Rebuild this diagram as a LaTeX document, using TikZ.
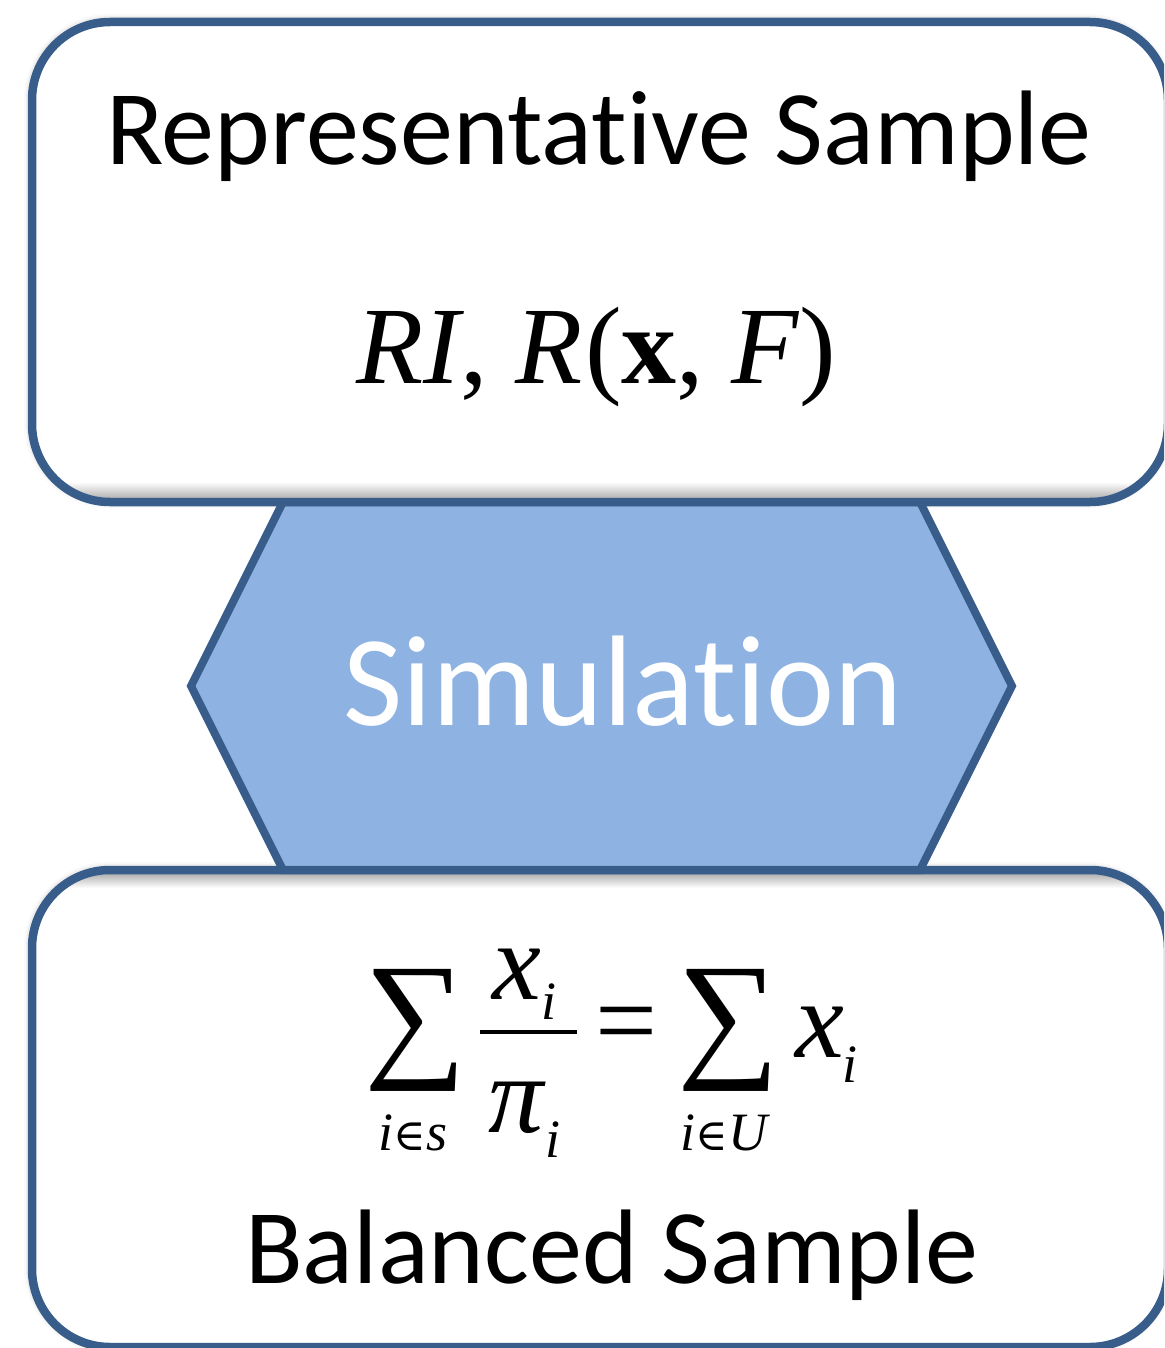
\documentclass[tikz,border=0pt]{standalone}
\usepackage{fontspec}
\setmainfont[Ligatures=NoCommon]{Carlito}
\newfontfamily\mathserif{Liberation Serif}
\newfontfamily\setsym{DejaVu Serif}
\usetikzlibrary{shadows.blur}

\definecolor{panelline}{RGB}{56,93,138}
\definecolor{hexfill}{RGB}{142,179,226}

\tikzset{
  panel/.style={line width=8.5pt, draw=panelline, rounded corners=78pt},
  halo/.style={fill=white, rounded corners=78pt,
    blur shadow={shadow xshift=-1pt, shadow yshift=1pt,
      shadow blur radius=7pt, shadow opacity=35}},
  stage/.style={line width=8pt, draw=panelline, fill=hexfill, line join=miter},
  bigtext/.style={inner sep=0pt, font=\fontsize{106}{120}\selectfont},
  formula/.style={inner sep=0pt, font=\mathserif\fontsize{110}{120}\selectfont},
  letter/.style={inner sep=0pt, font=\mathserif\itshape\fontsize{110}{120}\selectfont},
  index/.style={inner sep=0pt, font=\mathserif\itshape\fontsize{54}{60}\selectfont},
  bigsum/.style={inner sep=0pt, font=\mathserif}
}

% a large summation sign stretched to a given box
\newcommand{\sumsign}{\resizebox*{102pt}{122pt}{\char"2211}}
\newcommand{\elem}{{\setsym\upshape\fontsize{44}{50}\selectfont\char"2208}}

\begin{document}
\begin{tikzpicture}[x=1pt,y=-1pt]
\useasboundingbox (0,0) rectangle (1164,1348);
\clip (0,0) rectangle (1164,1348);

% white panels with their soft shadows
\path[halo] (32,22) rectangle (1168,502);
\path[halo] (32,870) rectangle (1168,1347);

% inner shading where the panels meet the hexagon
\begin{scope}
  \clip[rounded corners=74pt] (36,26) rectangle (1164,498);
  \shade[top color=white, bottom color=black!30] (0,482) rectangle (1164,498);
\end{scope}
\begin{scope}
  \clip[rounded corners=74pt] (36,874) rectangle (1164,1343);
  \shade[top color=black!30, bottom color=white] (0,874) rectangle (1164,888);
\end{scope}

% hexagon in the middle
\draw[stage] (191,686) -- (283,502) -- (920,502) -- (1012,686)
  -- (920,870) -- (283,870) -- cycle;

% panel borders
\draw[panel] (32,22) rectangle (1168,502);
\draw[panel] (32,870) rectangle (1168,1347);

% texts
\node[bigtext, anchor=base] (repr) at (599,165) {Representative Sample};
\node[formula, anchor=base] (rmeasure) at (596,383)
  {\itshape RI\upshape, \itshape R\kern3pt\upshape(\bfseries x\mdseries, \itshape F\upshape)};
\node[bigtext, anchor=base, text=white,
  font=\fontsize{129}{130}\selectfont] (sim) at (623,725) {Simulation};
\node[bigtext, anchor=base] (bal) at (612,1283) {Balanced Sample};

% balancing equation, put together piece by piece
\node[bigsum, anchor=north west] (suml) at (364,969) {\sumsign};
\node[index, anchor=base] (subl) at (413,1150) {i\elem s};
\node[letter, anchor=base west] (numx) at (492,999) {x};
\node[index, anchor=base west] (numi) at (541,1019) {i};
\coordinate (barl) at (480,1032);
\coordinate (barr) at (577,1032);
\draw[line width=4pt] (barl) -- (barr);
\node[letter, anchor=base west] (denpi) at (488,1132) {π};
\node[index, anchor=base west] (deni) at (545,1157) {i};
\node[formula, anchor=center] (equal) at (627,1032) {=};
\node[bigsum, anchor=north west] (sumr) at (677,969) {\sumsign};
\node[index, anchor=base] (subr) at (724,1150) {i\elem U};
\node[letter, anchor=base west] (restx) at (795,1057) {x};
\node[index, anchor=base west] (resti) at (842,1082) {i};
\end{tikzpicture}
\end{document}
